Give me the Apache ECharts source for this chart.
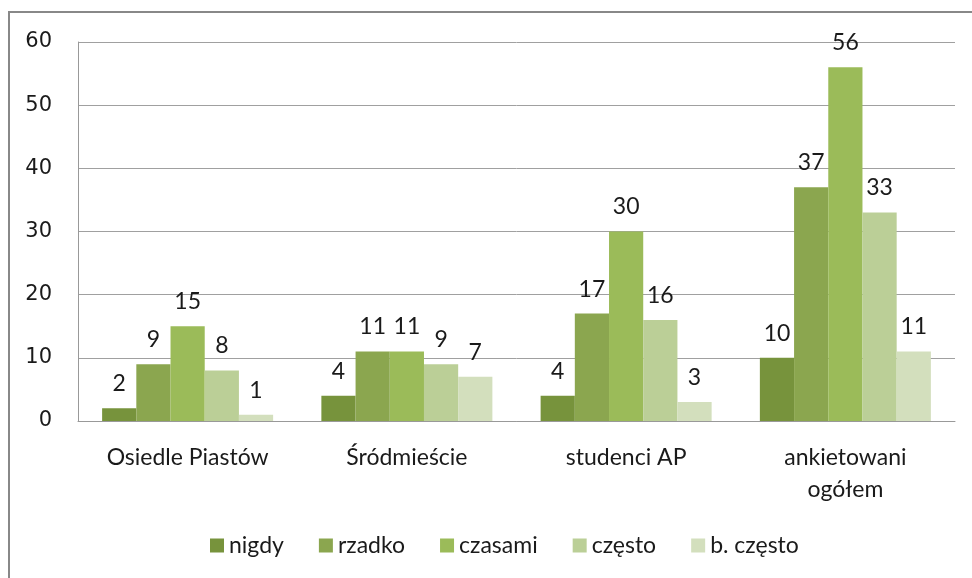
<!DOCTYPE html>
<html>
<head>
<meta charset="utf-8">
<script src="https://cdn.jsdelivr.net/npm/echarts@6/dist/echarts.min.js"></script>
<style>
  html, body { margin: 0; padding: 0; background: #fff; }
  #chart { width: 972px; height: 578px; }
</style>
</head>
<body>
<div id="chart"></div>
<script>
// dane z wykresu
var categories = ['Osiedle Piastów', 'Śródmieście', 'studenci AP', 'ankietowani\nogółem'];
var seriesNames = ['nigdy', 'rzadko', 'czasami', 'często', 'b. często'];
var nigdy = [2, 4, 4, 10];
var rzadko = [9, 11, 17, 37];
var czasami = [15, 11, 30, 56];
var czesto = [8, 9, 16, 33];
var bCzesto = [1, 7, 3, 11];
var yTicks = [0, 10, 20, 30, 40, 50, 60];

var colors = ['#77933C', '#8BA64F', '#9BBB59', '#BBCF97', '#D3DFBD'];
var values = [nigdy, rzadko, czasami, czesto, bCzesto];
var font = 'Lato, "Open Sans", sans-serif';

var mychart = echarts.init(document.getElementById('chart'));

var series = seriesNames.map(function (name, i) {
    return {
        name: name,
        type: 'bar',
        data: values[i],
        barGap: '0%',
        barCategoryGap: '22%',
        itemStyle: { color: colors[i] },
        label: {
            show: true,
            position: 'top',
            distance: 13,
            color: '#1a1a1a',
            fontSize: 23,
            fontFamily: font
        }
    };
});

var option = {
    animation: false,
    backgroundColor: '#fff',
    color: colors,
    grid: { left: 78, right: 17, top: 42, bottom: 157 },
    xAxis: {
        type: 'category',
        data: categories,
        axisLine: { lineStyle: { color: '#999', width: 1 } },
        axisTick: { show: false },
        axisLabel: {
            color: '#1a1a1a',
            fontSize: 23,
            fontFamily: font,
            margin: 21,
            lineHeight: 32
        }
    },
    yAxis: {
        type: 'value',
        min: yTicks[0],
        max: yTicks[yTicks.length - 1],
        interval: 10,
        axisLine: { show: true, lineStyle: { color: '#999', width: 1 } },
        axisTick: { show: false },
        splitLine: { lineStyle: { color: '#A0A0A0', width: 1 } },
        axisLabel: {
            color: '#1a1a1a',
            fontSize: 21,
            fontFamily: '"DejaVu Sans", sans-serif',
            margin: 26
        }
    },
    legend: {
        bottom: 16,
        left: 205,
        itemWidth: 14,
        itemHeight: 14,
        itemGap: 35,
        icon: 'rect',
        textStyle: { color: '#1a1a1a', fontSize: 23, fontFamily: font }
    },
    graphic: [{
        type: 'rect',
        shape: { x: 9, y: 12, width: 1000, height: 600 },
        style: { fill: 'none', stroke: '#888', lineWidth: 2 },
        silent: true
    }],
    series: series
};

mychart.setOption(option);
</script>
</body>
</html>
